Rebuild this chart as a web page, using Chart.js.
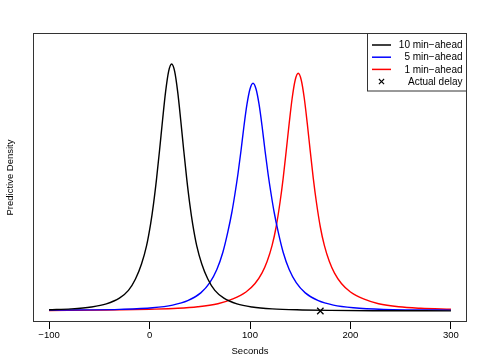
<!DOCTYPE html>
<html>
<head>
<meta charset="utf-8">
<script src="https://cdn.jsdelivr.net/npm/chart.js@4.4.1/dist/chart.umd.min.js"></script>
<style>
  html, body { margin: 0; padding: 0; background: #fff; }
  canvas { display: block; }
</style>
</head>
<body>
<canvas id="c" width="485" height="363"></canvas>
<script>
// x tick labels (seconds)
const xTicks = [-100, 0, 100, 200, 300];

// series labels
const seriesLabels = ["10 min\u2212ahead", "5 min\u2212ahead", "1 min\u2212ahead", "Actual delay"];

// 10 min-ahead predictive density
const blackX = [-100, -78, -58, -43, -30, -21, -14, -8, -3, 1, 4, 7, 10, 13, 16, 19, 22, 25, 28, 31, 34, 37, 40, 43, 47, 52, 58, 65, 74, 87, 102, 122, 152, 180, 222, 260, 300];
const blackY = [0.00012, 0.00021, 0.0004, 0.00071, 0.00128, 0.00206, 0.0032, 0.0047, 0.00651, 0.00866, 0.01074, 0.01324, 0.0161, 0.01913, 0.02193, 0.02396, 0.0247,
                0.02396, 0.02193, 0.01913, 0.0161, 0.01324, 0.01074, 0.00866, 0.00651, 0.0047, 0.0032, 0.00206, 0.00128, 0.00071, 0.0004, 0.00021, 0.000105, 0.00006, 0.00003, 0.00002, 0.000015];

// 5 min-ahead predictive density
const blueX = [-100, -60, -30, 3, 23, 38, 51, 60, 67, 73, 78, 82, 85, 88, 91, 94, 97, 100, 103, 106, 109, 112, 115, 118, 121, 124, 128, 133, 139, 146, 155, 168, 183, 203, 233, 263, 300];
const blueY = [0.00009, 0.00011, 0.00016, 0.00032, 0.00059, 0.00103, 0.00181, 0.00283, 0.00414, 0.00587, 0.00793, 0.0099, 0.0117, 0.0137, 0.016, 0.0185, 0.02068, 0.0222, 0.02277,
               0.0222, 0.02068, 0.0185, 0.016, 0.0137, 0.0117, 0.0099, 0.00793, 0.00587, 0.00414, 0.00283, 0.00181, 0.00103, 0.00059, 0.00032, 0.00015, 0.00011, 0.00009];

// 1 min-ahead predictive density
const redX = [-100, -43, 0, 28, 48, 68, 83, 96, 105, 112, 117, 122, 126, 130, 133, 136, 139, 142, 145, 148, 151, 154, 157, 160, 163, 166, 170, 174, 179, 184, 191, 200, 213, 228, 248, 270, 300];
const redY = [0.00005, 0.0001, 0.00018, 0.00027, 0.00042, 0.00073, 0.00121, 0.0019, 0.00275, 0.00382, 0.00495, 0.00656, 0.0084, 0.01095, 0.01327, 0.01596, 0.01876, 0.0213, 0.0231, 0.02377,
              0.0231, 0.0213, 0.01876, 0.01596, 0.01327, 0.01095, 0.0084, 0.00656, 0.00495, 0.00382, 0.00275, 0.0019, 0.00121, 0.00073, 0.00042, 0.00027, 0.00017];

// actual delay
const actualX = [170];
const actualY = [0];

const seriesColors = ["#000000", "#0000ff", "#ff0000", "#000000"];

function pts(xs, ys) { return xs.map((x, i) => ({ x: x, y: ys[i] })); }

const FONT = "'Liberation Sans', Arial, Helvetica, sans-serif";

const framePlugin = {
  id: 'frame',
  afterDraw(chart) {
    const ctx = chart.ctx;
    const a = chart.chartArea;
    ctx.save();
    // plot box
    ctx.strokeStyle = '#333';
    ctx.lineWidth = 1;
    ctx.strokeRect(Math.round(a.left) + 0.5, Math.round(a.top) + 0.5,
                   Math.round(a.right - a.left) - 1, Math.round(a.bottom - a.top) - 1);
    // axis titles
    ctx.fillStyle = '#000';
    ctx.font = "9.5px " + FONT;
    ctx.textAlign = 'center';
    ctx.textBaseline = 'middle';
    ctx.fillText('Seconds', (a.left + a.right) / 2, 351);
    ctx.save();
    ctx.translate(10.5, (a.top + a.bottom) / 2);
    ctx.rotate(-Math.PI / 2);
    ctx.fillText('Predictive Density', 0, 0);
    ctx.restore();

    // legend
    const lx0 = 367, ly0 = a.top, lx1 = a.right, ly1 = 90.5;
    ctx.fillStyle = '#fff';
    ctx.fillRect(lx0, ly0, lx1 - lx0, ly1 - ly0);
    ctx.strokeStyle = '#333';
    ctx.strokeRect(lx0 + 0.5, ly0 + 0.5, lx1 - lx0 - 1, ly1 - ly0);
    const rows = [45, 57.2, 69.4, 81.6];
    ctx.font = "10px " + FONT;
    ctx.textAlign = 'right';
    ctx.textBaseline = 'middle';
    for (let i = 0; i < seriesLabels.length; i++) {
      const y = rows[i];
      ctx.strokeStyle = seriesColors[i];
      if (i < 3) {
        ctx.lineWidth = 1.5;
        ctx.beginPath();
        ctx.moveTo(372, y);
        ctx.lineTo(391, y);
        ctx.stroke();
      } else {
        ctx.lineWidth = 1.1;
        const cx = 381.5, r = 2.6;
        ctx.beginPath();
        ctx.moveTo(cx - r, y - r); ctx.lineTo(cx + r, y + r);
        ctx.moveTo(cx - r, y + r); ctx.lineTo(cx + r, y - r);
        ctx.stroke();
      }
      ctx.fillStyle = '#000';
      ctx.fillText(seriesLabels[i], 462.5, y + 0.5);
    }
    ctx.restore();
  }
};

new Chart(document.getElementById('c'), {
  type: 'scatter',
  data: {
    datasets: [
      { label: seriesLabels[0], data: pts(blackX, blackY), showLine: true, borderColor: seriesColors[0], borderWidth: 1.4, pointRadius: 0, cubicInterpolationMode: 'monotone', fill: false },
      { label: seriesLabels[1], data: pts(blueX, blueY), showLine: true, borderColor: seriesColors[1], borderWidth: 1.4, pointRadius: 0, cubicInterpolationMode: 'monotone', fill: false },
      { label: seriesLabels[2], data: pts(redX, redY), showLine: true, borderColor: seriesColors[2], borderWidth: 1.4, pointRadius: 0, cubicInterpolationMode: 'monotone', fill: false },
      { label: seriesLabels[3], data: pts(actualX, actualY), showLine: false, borderColor: seriesColors[3], backgroundColor: seriesColors[3], pointStyle: 'crossRot', pointRadius: 4.5, borderWidth: 1.3 }
    ]
  },
  options: {
    responsive: false,
    devicePixelRatio: 1,
    animation: false,
    layout: { padding: { left: 33, right: 18, top: 33, bottom: 0 } },
    plugins: { legend: { display: false }, tooltip: { enabled: false } },
    scales: {
      x: {
        type: 'linear',
        min: -116,
        max: 316,
        afterBuildTicks(scale) { scale.ticks = xTicks.map(v => ({ value: v })); },
        afterFit(scale) { scale.height = 41; },
        ticks: {
          autoSkip: false,
          maxRotation: 0,
          padding: 1,
          color: '#000',
          font: { family: FONT, size: 9.5 },
          callback: (v) => String(v).replace('-', '\u2212')
        },
        grid: { drawOnChartArea: false, drawTicks: true, tickLength: 7, color: '#000', lineWidth: 1 },
        border: { display: false }
      },
      y: {
        display: false,
        min: -0.0011,
        max: 0.0278
      }
    }
  },
  plugins: [framePlugin]
});
</script>
</body>
</html>
